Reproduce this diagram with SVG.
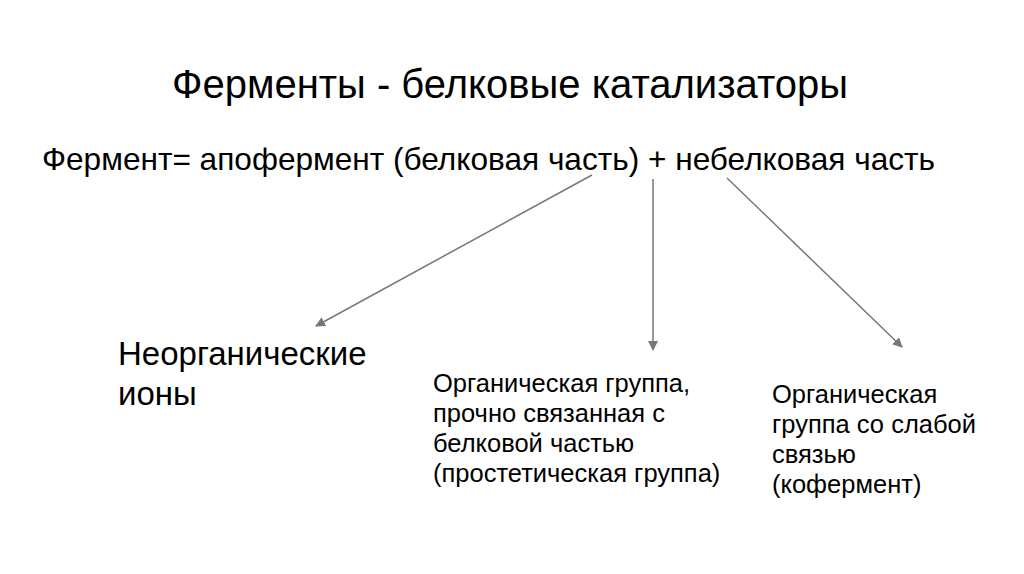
<svg xmlns="http://www.w3.org/2000/svg" width="1024" height="574" viewBox="0 0 1024 574">
<defs>
<style>
text{font-family:"Liberation Sans",Arial,sans-serif;fill:#000}
.t{font-size:40px}
.f{font-size:31.6px}
.n{font-size:33px}
.s{font-size:25.5px}
.c{stroke:#777;stroke-width:1.5;fill:none;marker-end:url(#ah)}
</style>
<marker id="ah" viewBox="0 0 10 10" refX="9" refY="5" markerWidth="10" markerHeight="10" markerUnits="userSpaceOnUse" orient="auto">
<path d="M0,0 L10,5 L0,10 z" fill="#777"/>
</marker>
</defs>
<rect width="1024" height="574" fill="#fff"/>
<g id="title"><text class="t" x="510" y="98" text-anchor="middle" textLength="676" lengthAdjust="spacingAndGlyphs">Ферменты - белковые катализаторы</text></g>
<g id="formula"><text class="f" x="42" y="170" textLength="893" lengthAdjust="spacingAndGlyphs">Фермент= апофермент (белковая часть) + небелковая часть</text></g>
<g id="connectors">
<line class="c" x1="592" y1="175" x2="316" y2="326"/>
<line class="c" x1="653" y1="179" x2="653" y2="350"/>
<line class="c" x1="727" y1="178" x2="902" y2="347"/>
</g>
<g id="ions"><text class="n" x="118" y="365">Неорганические</text><text class="n" x="118" y="405">ионы</text></g>
<g id="prosthetic"><text class="s" x="433" y="392">Органическая группа,</text><text class="s" x="433" y="422">прочно связанная с</text><text class="s" x="433" y="452">белковой частью</text><text class="s" x="433" y="482">(простетическая группа)</text></g>
<g id="coenzyme"><text class="s" x="772" y="403">Органическая</text><text class="s" x="772" y="433">группа со слабой</text><text class="s" x="772" y="463">связью</text><text class="s" x="772" y="493">(кофермент)</text></g>
</svg>
